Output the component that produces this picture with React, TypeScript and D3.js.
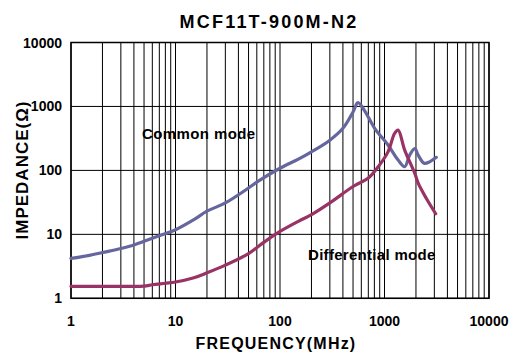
import React from 'react';
import * as d3 from 'd3';

const title = 'MCF11T-900M-N2';

const commonFreq = [1, 1.5, 2, 3, 4, 5, 7, 10, 15, 20, 30, 50, 62, 100, 150, 200, 300, 400, 500, 557, 650, 805, 1080, 1350, 1560, 1740, 1950, 2100, 2400, 2700, 3130];
const commonZ = [4.2, 4.7, 5.2, 6.0, 6.8, 7.8, 9.5, 11.8, 17, 23, 31, 53, 68, 108, 150, 195, 297, 455, 820, 1150, 840, 455, 250, 145, 114, 173, 220, 173, 129, 136, 160];

const diffFreq = [1, 2, 3, 5, 6, 8, 10, 15, 20, 30, 50, 70, 100, 150, 200, 300, 500, 700, 870, 1080, 1250, 1350, 1560, 1950, 2100, 2500, 3090];
const diffZ = [1.54, 1.54, 1.54, 1.55, 1.63, 1.72, 1.8, 2.1, 2.5, 3.3, 5.0, 7.5, 11.1, 16, 20.3, 31, 56, 76, 114, 195, 380, 427, 208, 90, 63, 37, 21];

const xTicks = [1, 10, 100, 1000, 10000];
const yTicks = [1, 10, 100, 1000, 10000];

const commonColor = '#66669e';
const diffColor = '#993366';

const W = 518;
const H = 358;
const margin = { top: 42.5, right: 29, bottom: 59.7, left: 71 };

export default function App() {
  const x = d3.scaleLog().domain([1, 10000]).range([margin.left, W - margin.right]);
  const y = d3.scaleLog().domain([1, 10000]).range([H - margin.bottom, margin.top]);

  // minor vertical grid: 2..9 per decade
  const minor: number[] = [];
  for (let d = 0; d < 4; d++) {
    for (let k = 2; k <= 9; k++) minor.push(k * Math.pow(10, d));
  }

  const line = d3
    .line<[number, number]>()
    .x(d => x(d[0]))
    .y(d => y(d[1]))
    .curve(d3.curveCatmullRom.alpha(0.5));

  const common = commonFreq.map((f, i) => [f, commonZ[i]] as [number, number]);
  const diff = diffFreq.map((f, i) => [f, diffZ[i]] as [number, number]);

  const font = 'Arial, "Liberation Sans", Helvetica, sans-serif';
  const x0 = margin.left;
  const x1 = W - margin.right;
  const y0 = H - margin.bottom;
  const y1 = margin.top;

  return (
    <svg width={W} height={H} style={{ position: 'absolute', left: 0, top: 0, background: '#fff' }} fontFamily={font}>
      <text x={269} y={28} textAnchor="middle" fontSize={18} fontWeight="bold" letterSpacing={2.2}>
        {title}
      </text>

      {/* grid */}
      {minor.map(v => (
        <line key={'m' + v} x1={x(v)} x2={x(v)} y1={y1} y2={y0} stroke="#000" strokeWidth={1} />
      ))}
      {xTicks.map(v => (
        <line key={'vx' + v} x1={x(v)} x2={x(v)} y1={y1} y2={y0} stroke="#000" strokeWidth={1} />
      ))}
      {yTicks.map(v => (
        <line key={'hy' + v} x1={x0} x2={x1} y1={y(v)} y2={y(v)} stroke="#000" strokeWidth={1} />
      ))}
      <rect x={x0} y={y1} width={x1 - x0} height={y0 - y1} fill="none" stroke="#000" strokeWidth={1.5} />

      {/* curves */}
      <path d={line(common) || ''} fill="none" stroke={commonColor} strokeWidth={3.2} strokeLinejoin="round" strokeLinecap="round" />
      <path d={line(diff) || ''} fill="none" stroke={diffColor} strokeWidth={3.2} strokeLinejoin="round" strokeLinecap="round" />

      {/* tick labels */}
      {yTicks.map(v => (
        <text key={'yl' + v} x={62} y={y(v) + 5} textAnchor="end" fontSize={14} fontWeight="bold">
          {v}
        </text>
      ))}
      {xTicks.map(v => (
        <text key={'xl' + v} x={x(v)} y={326} textAnchor="middle" fontSize={14} fontWeight="bold">
          {v}
        </text>
      ))}

      {/* axis titles */}
      <text x={276} y={349} textAnchor="middle" fontSize={16} fontWeight="bold" letterSpacing={1.2}>
        FREQUENCY(MHz)
      </text>
      <text
        transform={`translate(28,170) rotate(-90)`}
        textAnchor="middle"
        fontSize={17}
        fontWeight="bold"
        letterSpacing={1}
      >
        IMPEDANCE(Ω)
      </text>

      {/* annotations */}
      <text x={142} y={139} fontSize={15} fontWeight="bold" letterSpacing={0.4}>
        Common mode
      </text>
      <text x={308} y={260} fontSize={15} fontWeight="bold" letterSpacing={0.3}>
        Differential mode
      </text>
    </svg>
  );
}
